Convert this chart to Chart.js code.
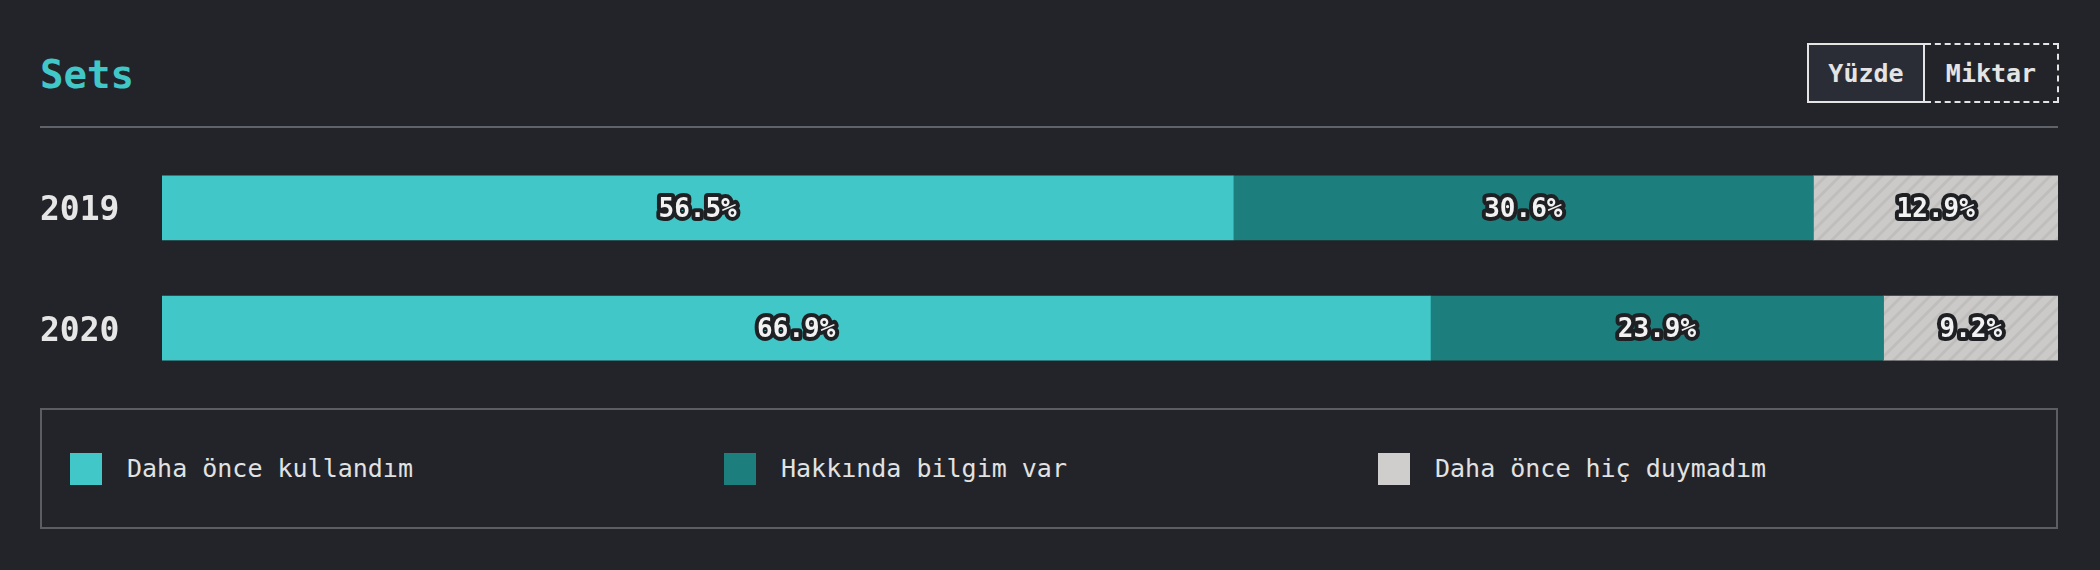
<!DOCTYPE html>
<html>
<head>
<meta charset="utf-8">
<script src="https://cdn.jsdelivr.net/npm/chart.js@4"></script>
<style>
  html, body { margin: 0; padding: 0; background: #232429; }
  body { width: 2100px; height: 570px; position: relative; overflow: hidden; font-family: "DejaVu Sans Mono", monospace; }
  #title { position: absolute; left: 40px; top: 55px; font-size: 39px; line-height: 39px; font-weight: bold; color: #41c7c7; }
  #rule { position: absolute; left: 40px; top: 126px; width: 2018px; height: 2px; background: #5f6268; }
  #toggle { position: absolute; left: 1807px; top: 43px; height: 60px; display: flex; }
  #toggle div { box-sizing: border-box; height: 60px; display: flex; align-items: center; justify-content: center; font-size: 25px; font-weight: bold; color: #e4e4e4; }
  #btnPct { width: 118px; border: 2px solid #e4e4e4; background: #2a2d35; }
  #btnAmt { width: 134px; border: 2px dashed #e4e4e4; border-left: none; }
  #chartWrap { position: absolute; left: 40px; top: 128px; width: 2018px; height: 280px; }
  #legend { position: absolute; left: 40px; top: 408px; width: 2018px; height: 121px; box-sizing: border-box; border: 2px solid #5b5d63; display: flex; align-items: center; padding-left: 28px; }
  .item { width: 654px; display: flex; align-items: center; }
  .sw { width: 32px; height: 32px; margin-right: 25px; }
  .item span { font-size: 25px; color: #e2e2e2; }
</style>
</head>
<body>
<div id="title">Sets</div>
<div id="toggle"><div id="btnPct">Yüzde</div><div id="btnAmt">Miktar</div></div>
<div id="rule"></div>
<div id="chartWrap"><canvas id="chart"></canvas></div>
<div id="legend"></div>
<script>
const years = ["2019", "2020"];
const seriesNames = ["Daha önce kullandım", "Hakkında bilgim var", "Daha önce hiç duymadım"];
const usedValues = [56.5, 66.9];
const knowValues = [30.6, 23.9];
const neverValues = [12.9, 9.2];
const colors = ["#41c7c7", "#1d7f7d", "#cfcecc"];

// hatch for the "never heard" segment
function makeHatch() {
    const c = document.createElement("canvas");
    c.width = 14; c.height = 14;
    const g = c.getContext("2d");
    g.fillStyle = "#cbcac8";
    g.fillRect(0, 0, 14, 14);
    g.strokeStyle = "#bfbebc";
    g.lineWidth = 3;
    g.beginPath();
    g.moveTo(-2, 16); g.lineTo(16, -2);
    g.moveTo(-9, 9); g.lineTo(9, -9);
    g.moveTo(5, 23); g.lineTo(23, 5);
    g.stroke();
    return c;
}

const labelPlugin = {
    id: "segLabels",
    afterDatasetsDraw(chart) {
        const ctx = chart.ctx;
        ctx.save();
        ctx.font = "bold 26px 'DejaVu Sans Mono'";
        ctx.textAlign = "center";
        ctx.textBaseline = "middle";
        ctx.lineJoin = "round";
        chart.data.datasets.forEach(function (ds, i) {
            chart.getDatasetMeta(i).data.forEach(function (bar, j) {
                const txt = ds.data[j].toFixed(1) + "%";
                const x = (bar.x + bar.base) / 2;
                ctx.lineWidth = 8;
                ctx.strokeStyle = "#1f2024";
                ctx.strokeText(txt, x, bar.y + 2);
                ctx.fillStyle = "#f2f2f2";
                ctx.fillText(txt, x, bar.y + 2);
            });
        });
        ctx.restore();
    }
};

document.addEventListener("DOMContentLoaded", function () {
    const hatch = document.createElement("canvas").getContext("2d").createPattern(makeHatch(), "repeat");
    const values = [usedValues, knowValues, neverValues];
    const fills = [colors[0], colors[1], hatch];

    new Chart(document.getElementById("chart"), {
        type: "bar",
        data: {
            labels: years,
            datasets: seriesNames.map(function (name, i) {
                return {
                    label: name,
                    data: values[i],
                    backgroundColor: fills[i],
                    borderWidth: 0,
                    barThickness: 64
                };
            })
        },
        options: {
            indexAxis: "y",
            responsive: true,
            maintainAspectRatio: false,
            animation: false,
            layout: { padding: 0 },
            plugins: { legend: { display: false }, tooltip: { enabled: false } },
            scales: {
                x: { stacked: true, min: 0, max: 100, display: false },
                y: {
                    stacked: true,
                    grid: { display: false, drawTicks: false },
                    border: { display: false },
                    ticks: {
                        crossAlign: "far",
                        padding: 0,
                        labelOffset: 4,
                        color: "#e6e6e6",
                        font: { family: "DejaVu Sans Mono", size: 33, weight: "bold" }
                    },
                    afterFit: function (scale) { scale.width = 122; }
                }
            }
        },
        plugins: [labelPlugin]
    });

    // legend built from the series names
    const legend = document.getElementById("legend");
    seriesNames.forEach(function (name, i) {
        const item = document.createElement("div");
        item.className = "item";
        item.innerHTML = '<div class="sw" style="background:' + colors[i] + '"></div><span>' + name + '</span>';
        legend.appendChild(item);
    });
});
</script>
</body>
</html>
